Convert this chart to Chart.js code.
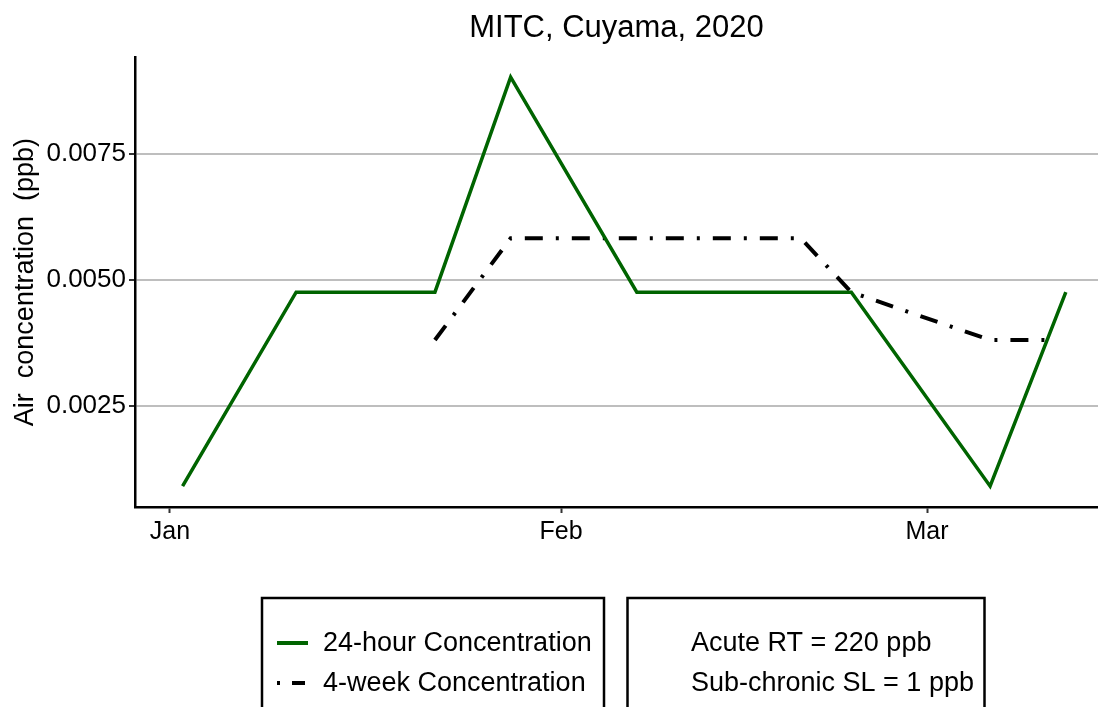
<!DOCTYPE html>
<html>
<head>
<meta charset="utf-8">
<script src="https://cdn.jsdelivr.net/npm/chart.js@4"></script>
<style>
  html, body { margin: 0; padding: 0; background: #fff; }
  #grafico { display: block; }
</style>
</head>
<body>
<canvas id="grafico" width="1098" height="707"></canvas>
<script>
// fechas y valores
const fechas24h = ['2020-01-02', '2020-01-11', '2020-01-22', '2020-01-28', '2020-02-07', '2020-02-24', '2020-03-06', '2020-03-12'];
const conc24h = [0.00091, 0.00476, 0.00476, 0.00903, 0.00476, 0.00476, 0.00091, 0.00476];

const fechas4sem = ['2020-01-22', '2020-01-28', '2020-02-07', '2020-02-20', '2020-02-24', '2020-03-06', '2020-03-11'];
const conc4sem = [0.00381, 0.00583, 0.00583, 0.00583, 0.00476, 0.00381, 0.00381];

const mesesTicks = ['2020-01-01', '2020-02-01', '2020-03-01'];
const mesesLabels = ['Jan', 'Feb', 'Mar'];
const yTicks = [0.0025, 0.0050, 0.0075];

const leyendaSeries = ['24-hour Concentration', '4-week Concentration'];
const leyendaUmbrales = ['Acute RT = 220 ppb', 'Sub-chronic SL = 1 ppb'];

const DIA = 86400000;
const inicio = Date.parse('2020-01-01');
const VERDE = '#006400';
const FUENTE = '"Liberation Sans", Arial, sans-serif';

function puntos(fechas, valores) {
    return fechas.map((f, i) => ({ x: Date.parse(f), y: valores[i] }));
}

// cajas de leyenda de abajo (estilo ggplot)
const leyendaPlugin = {
    id: 'leyendaCajas',
    afterDraw(chart) {
        const ctx = chart.ctx;
        ctx.save();
        ctx.strokeStyle = '#000';
        ctx.lineWidth = 2.5;
        ctx.strokeRect(262, 598, 342, 130);
        ctx.strokeRect(627.5, 598, 357, 130);

        // muestra linea verde
        ctx.lineCap = 'butt';
        ctx.lineWidth = 4;
        ctx.strokeStyle = VERDE;
        ctx.beginPath();
        ctx.moveTo(277, 643);
        ctx.lineTo(308, 643);
        ctx.stroke();

        // muestra punto-raya
        ctx.strokeStyle = '#000';
        ctx.beginPath();
        ctx.moveTo(277, 683);
        ctx.lineTo(280, 683);
        ctx.moveTo(292, 683);
        ctx.lineTo(305, 683);
        ctx.stroke();

        ctx.fillStyle = '#000';
        ctx.font = '27px ' + FUENTE;
        ctx.textBaseline = 'middle';
        ctx.textAlign = 'left';
        ctx.fillText(leyendaSeries[0], 323, 644);
        ctx.fillText(leyendaSeries[1], 323, 684);
        ctx.fillText(leyendaUmbrales[0], 691, 644);
        ctx.fillText(leyendaUmbrales[1], 691, 684);
        ctx.restore();
    }
};

const ctx = document.getElementById('grafico').getContext('2d');
const miGrafico = new Chart(ctx, {
    type: 'line',
    data: {
        datasets: [{
            label: leyendaSeries[0],
            data: puntos(fechas24h, conc24h),
            borderColor: VERDE,
            borderWidth: 3.5,
            pointRadius: 0,
            tension: 0,
            borderJoinStyle: 'miter'
        }, {
            label: leyendaSeries[1],
            data: puntos(fechas4sem, conc4sem),
            borderColor: '#000',
            borderWidth: 4,
            borderDash: [18, 13, 3, 13],
            borderCapStyle: 'butt',
            pointRadius: 0,
            tension: 0
        }]
    },
    options: {
        responsive: false,
        devicePixelRatio: 1,
        animation: false,
        layout: { padding: 0 },
        scales: {
            x: {
                type: 'linear',
                min: inicio - 2.77 * DIA,
                max: inicio + 73.55 * DIA,
                afterBuildTicks: (scale) => {
                    scale.ticks = mesesTicks.map(f => ({ value: Date.parse(f) }));
                },
                afterFit: (scale) => { scale.height = 200; },
                ticks: {
                    autoSkip: false,
                    maxRotation: 0,
                    color: '#000',
                    padding: 4,
                    font: { family: FUENTE, size: 25 },
                    callback: (v) => {
                        const i = mesesTicks.findIndex(f => Date.parse(f) === v);
                        return i >= 0 ? mesesLabels[i] : '';
                    }
                },
                grid: {
                    drawOnChartArea: false,
                    drawTicks: true,
                    tickLength: 6,
                    tickColor: '#333',
                    tickWidth: 2
                },
                border: { color: '#000', width: 2.5 }
            },
            y: {
                min: 0.000496,
                max: 0.009425,
                afterBuildTicks: (scale) => {
                    scale.ticks = yTicks.map(v => ({ value: v }));
                },
                afterFit: (scale) => { scale.width = 135; },
                ticks: {
                    color: '#000',
                    padding: 3,
                    font: { family: FUENTE, size: 26 },
                    callback: (v) => v.toFixed(4)
                },
                grid: {
                    color: '#bebebe',
                    lineWidth: 2,
                    drawTicks: true,
                    tickLength: 6,
                    tickColor: '#333',
                    tickWidth: 2
                },
                border: { color: '#000', width: 2.5 },
                title: {
                    display: true,
                    text: 'Air  concentration  (ppb)',
                    color: '#000',
                    font: { family: FUENTE, size: 27 },
                    padding: { top: 9, bottom: 0 }
                }
            }
        },
        plugins: {
            legend: { display: false },
            tooltip: { enabled: false },
            title: {
                display: true,
                fullSize: false,
                text: 'MITC, Cuyama, 2020',
                color: '#000',
                font: { family: FUENTE, size: 31, weight: 'normal' },
                padding: { top: 10, bottom: 10 }
            }
        }
    },
    plugins: [leyendaPlugin]
});
</script>
</body>
</html>
